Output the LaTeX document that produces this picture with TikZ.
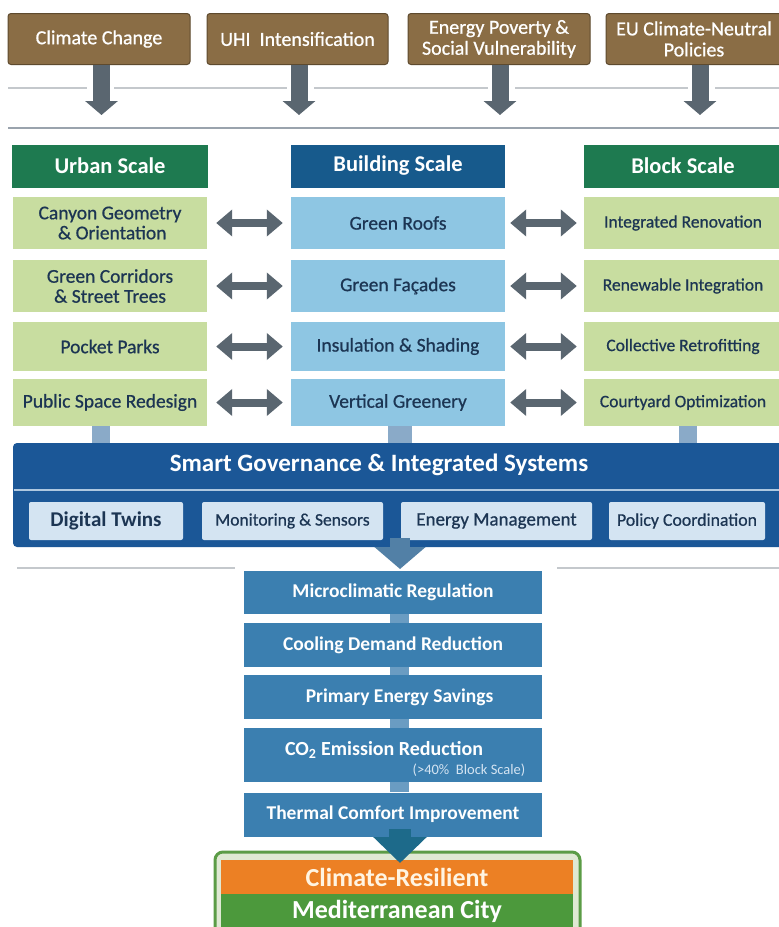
\documentclass[tikz,border=0pt]{standalone}
\usepackage{fontspec}
\setmainfont{Carlito}
\newfontfamily\medfont{Carlito}[FakeBold=0.7]
\usetikzlibrary{arrows.meta}
\definecolor{brownbox}{HTML}{8A6D45}
\definecolor{brownedge}{HTML}{5E4A2E}
\definecolor{arrgray}{HTML}{5A6670}
\definecolor{hgreen}{HTML}{1E7A50}
\definecolor{hblue}{HTML}{175A8C}
\definecolor{lgreen}{HTML}{C8DDA0}
\definecolor{lblue}{HTML}{8EC6E3}
\definecolor{navytext}{HTML}{1C3553}
\definecolor{govblue}{HTML}{1B5797}
\definecolor{subblue}{HTML}{D4E4F2}
\definecolor{outblue}{HTML}{3B7FB0}
\definecolor{connblue}{HTML}{8AAAC8}
\definecolor{outconn}{HTML}{6A9CC2}
\definecolor{govarrow}{HTML}{5280A6}
\definecolor{tealarrow}{HTML}{1D6A8A}
\definecolor{finorange}{HTML}{EC8024}
\definecolor{fingreen}{HTML}{4C993C}
\definecolor{finedge}{HTML}{5B9C46}
\definecolor{finfill}{HTML}{DFE9D3}
\definecolor{rulegray}{HTML}{C4C8CC}
\definecolor{rulegrayd}{HTML}{9AA3AD}
\definecolor{cream}{HTML}{FFF4E2}
\tikzset{
  base/.style={rectangle, inner sep=0pt, align=center},
  topbox/.style={base, fill=brownbox, draw=brownedge, line width=1pt, rounded corners=3pt,
    text=white, font=\medfont\fontsize{20}{21}\selectfont, minimum height=51pt},
  headbox/.style={base, text=white, font=\bfseries\fontsize{22.5}{24}\selectfont, minimum height=43pt},
  itemg/.style={base, fill=lgreen, text=navytext, font=\medfont\fontsize{19.5}{20}\selectfont},
  itemk/.style={base, fill=lgreen, text=navytext, font=\medfont\fontsize{17.5}{19}\selectfont},
  itemb/.style={base, fill=lblue, text=navytext, font=\medfont\fontsize{19.5}{20}\selectfont},
  subbox/.style={base, fill=subblue, text=navytext, rounded corners=2pt, minimum height=38pt},
  outbox/.style={base, fill=outblue, text=white, font=\bfseries\fontsize{19.5}{21}\selectfont, minimum width=298pt},
  downarrow/.style={draw=arrgray, line width=17pt, -{Triangle[width=32pt,length=14pt]}},
  dblarrow/.style={draw=arrgray, line width=8pt, {Triangle[width=26pt,length=16pt]}-{Triangle[width=26pt,length=16pt]}},
  colconn/.style={draw=connblue},
}
\begin{document}
\begin{tikzpicture}[x=1pt,y=-1pt]
\useasboundingbox (0,0) rectangle (779,927);
\fill[white] (0,0) rectangle (779,927);

% top boxes
\node[topbox, minimum width=182pt] (t1) at (99,39) {Climate Change};
\node[topbox, minimum width=181pt] (t2) at (297.5,39) {UHI\ \ Intensification};
\node[topbox, minimum width=182pt] (t3) at (499,39) {Energy Poverty \&\\Social Vulnerability};
\node[topbox, minimum width=176pt] (t4) at (694,39) {EU Climate-Neutral\\Policies};

% thin rule
\foreach \a/\b in {8/87, 114/287, 314/488, 515/688, 715/779}
  \draw[rulegray, line width=1.2pt] (\a,88) -- (\b,88);

\coordinate (a1) at (101.5,115);
\coordinate (a2) at (299,115);
\coordinate (a3) at (500,115);
\coordinate (a4) at (700,115);
\draw[downarrow] (a1 |- t1.south) -- (a1);
\draw[downarrow] (a2 |- t2.south) -- (a2);
\draw[downarrow] (a3 |- t3.south) -- (a3);
\draw[downarrow] (a4 |- t4.south) -- (a4);

\draw[rulegrayd, line width=2pt] (8,127.5) -- (779,127.5);

% headers
\node[headbox, fill=hgreen, minimum width=196pt] (hU) at (110,166) {Urban Scale};
\node[headbox, fill=hblue, minimum width=214pt] (hB) at (398,166) {Building Scale};
\node[headbox, fill=hgreen, minimum width=198pt] (hK) at (683,166) {Block Scale};

% rows
\node[itemg, minimum width=194pt, minimum height=52pt] (u1) at (110,223) {Canyon Geometry\\\ \& Orientation};
\node[itemb, minimum width=214pt, minimum height=52pt] (b1) at (398,223) {Green Roofs};
\node[itemk, minimum width=198pt, minimum height=52pt] (k1) at (683,223) {Integrated Renovation};

\node[itemg, minimum width=194pt, minimum height=52pt] (u2) at (110,286) {Green Corridors\\\& Street Trees};
\node[itemb, minimum width=214pt, minimum height=52pt] (b2) at (398,286) {Green Façades};
\node[itemk, minimum width=198pt, minimum height=52pt] (k2) at (683,286) {Renewable Integration};

\node[itemg, minimum width=194pt, minimum height=49pt] (u3) at (110,346.5) {Pocket Parks};
\node[itemb, minimum width=214pt, minimum height=49pt] (b3) at (398,346.5) {Insulation \& Shading};
\node[itemk, minimum width=198pt, minimum height=49pt] (k3) at (683,346.5) {Collective Retrofitting};

\node[itemg, minimum width=194pt, minimum height=47pt] (u4) at (110,402.5) {Public Space Redesign};
\node[itemb, minimum width=214pt, minimum height=47pt] (b4) at (398,402.5) {Vertical Greenery};
\node[itemk, minimum width=198pt, minimum height=47pt] (k4) at (683,402.5) {Courtyard Optimization};

\foreach \r in {1,2,3,4} {
  \draw[dblarrow, shorten <=9pt, shorten >=8pt] (u\r.east) -- (b\r.west);
  \draw[dblarrow, shorten <=5pt, shorten >=7pt] (b\r.east) -- (k\r.west);
}

% governance band
\node[base, fill=govblue, rounded corners=4pt, minimum width=771pt, minimum height=104pt] (gov) at (398.5,495) {};
\draw[colconn, line width=18pt] (101,0 |- u4.south) -- (101,0 |- gov.north);
\draw[colconn, line width=24pt] (399.5,0 |- b4.south) -- (399.5,0 |- gov.north);
\draw[colconn, line width=18pt] (687.5,0 |- k4.south) -- (687.5,0 |- gov.north);
\node[base, text=white, font=\bfseries\fontsize{25}{27}\selectfont] (govt) at (379,465) {Smart Governance \& Integrated Systems};
\draw[subblue!80!govblue, line width=2pt] (14,490) -- (779,490);
\node[subbox, minimum width=154pt, font=\bfseries\fontsize{21}{22}\selectfont] (s1) at (106,521) {Digital Twins};
\node[subbox, minimum width=181pt, font=\medfont\fontsize{17.5}{19}\selectfont] (s2) at (292.5,521) {Monitoring \& Sensors};
\node[subbox, minimum width=191pt, font=\medfont\fontsize{19}{20}\selectfont] (s3) at (496.5,521) {Energy Management};
\node[subbox, minimum width=156pt, font=\medfont\fontsize{17.8}{19}\selectfont] (s4) at (687,521) {Policy Coordination};

% arrow to outcomes
\coordinate (ga) at (400,569);
\draw[draw=govarrow, line width=20pt, -{Triangle[width=50pt,length=22pt]}] (400,538) -- (ga);
\draw[rulegray, line width=1.2pt] (17,568) -- (235,568);
\draw[rulegray, line width=1.2pt] (557,568) -- (779,568);

% outcomes
\node[outbox, minimum height=43pt] (o1) at (393,592.5) {Microclimatic Regulation};
\node[outbox, minimum height=44pt] (o2) at (393,645) {Cooling Demand Reduction};
\node[outbox, minimum height=44pt] (o3) at (393,697) {\ \ \ Primary Energy Savings};
\node[outbox, minimum height=54pt] (o4) at (393,755) {};
\node[outbox, minimum height=44pt] (o5) at (393,814.5) {Thermal Comfort Improvement};
\node[base, text=white, font=\bfseries\fontsize{20}{22}\selectfont] (o4t) at (384,750) {CO\textsubscript{2} Emission Reduction};
\node[base, text=subblue, font=\fontsize{14.5}{16}\selectfont] (o4s) at (469,770) {(>40\%\ \ Block Scale)};
\foreach \p/\q in {o1/o2, o2/o3, o3/o4, o4/o5}
  \draw[outconn, line width=19pt] (399.5,0 |- \p.south) -- (399.5,0 |- \q.north);

% final
\node[base, fill=finfill, draw=finedge, line width=3pt, rounded corners=8pt, minimum width=365pt, minimum height=84pt] (fin) at (397.5,894) {};
\node[base, fill=finorange, minimum width=352pt, minimum height=35pt, text=cream, font=\bfseries\fontsize{26}{28}\selectfont] (f1) at (397,877) {Climate-Resilient};
\node[base, fill=fingreen, minimum width=352pt, minimum height=34pt, text=white, font=\bfseries\fontsize{26}{28}\selectfont] (f2) at (397,911) {Mediterranean City};
\coordinate (fa) at (400,863);
\draw[draw=tealarrow, line width=22pt, -{Triangle[width=52pt,length=26pt]}] (400,829) -- (fa);
\end{tikzpicture}
\end{document}
